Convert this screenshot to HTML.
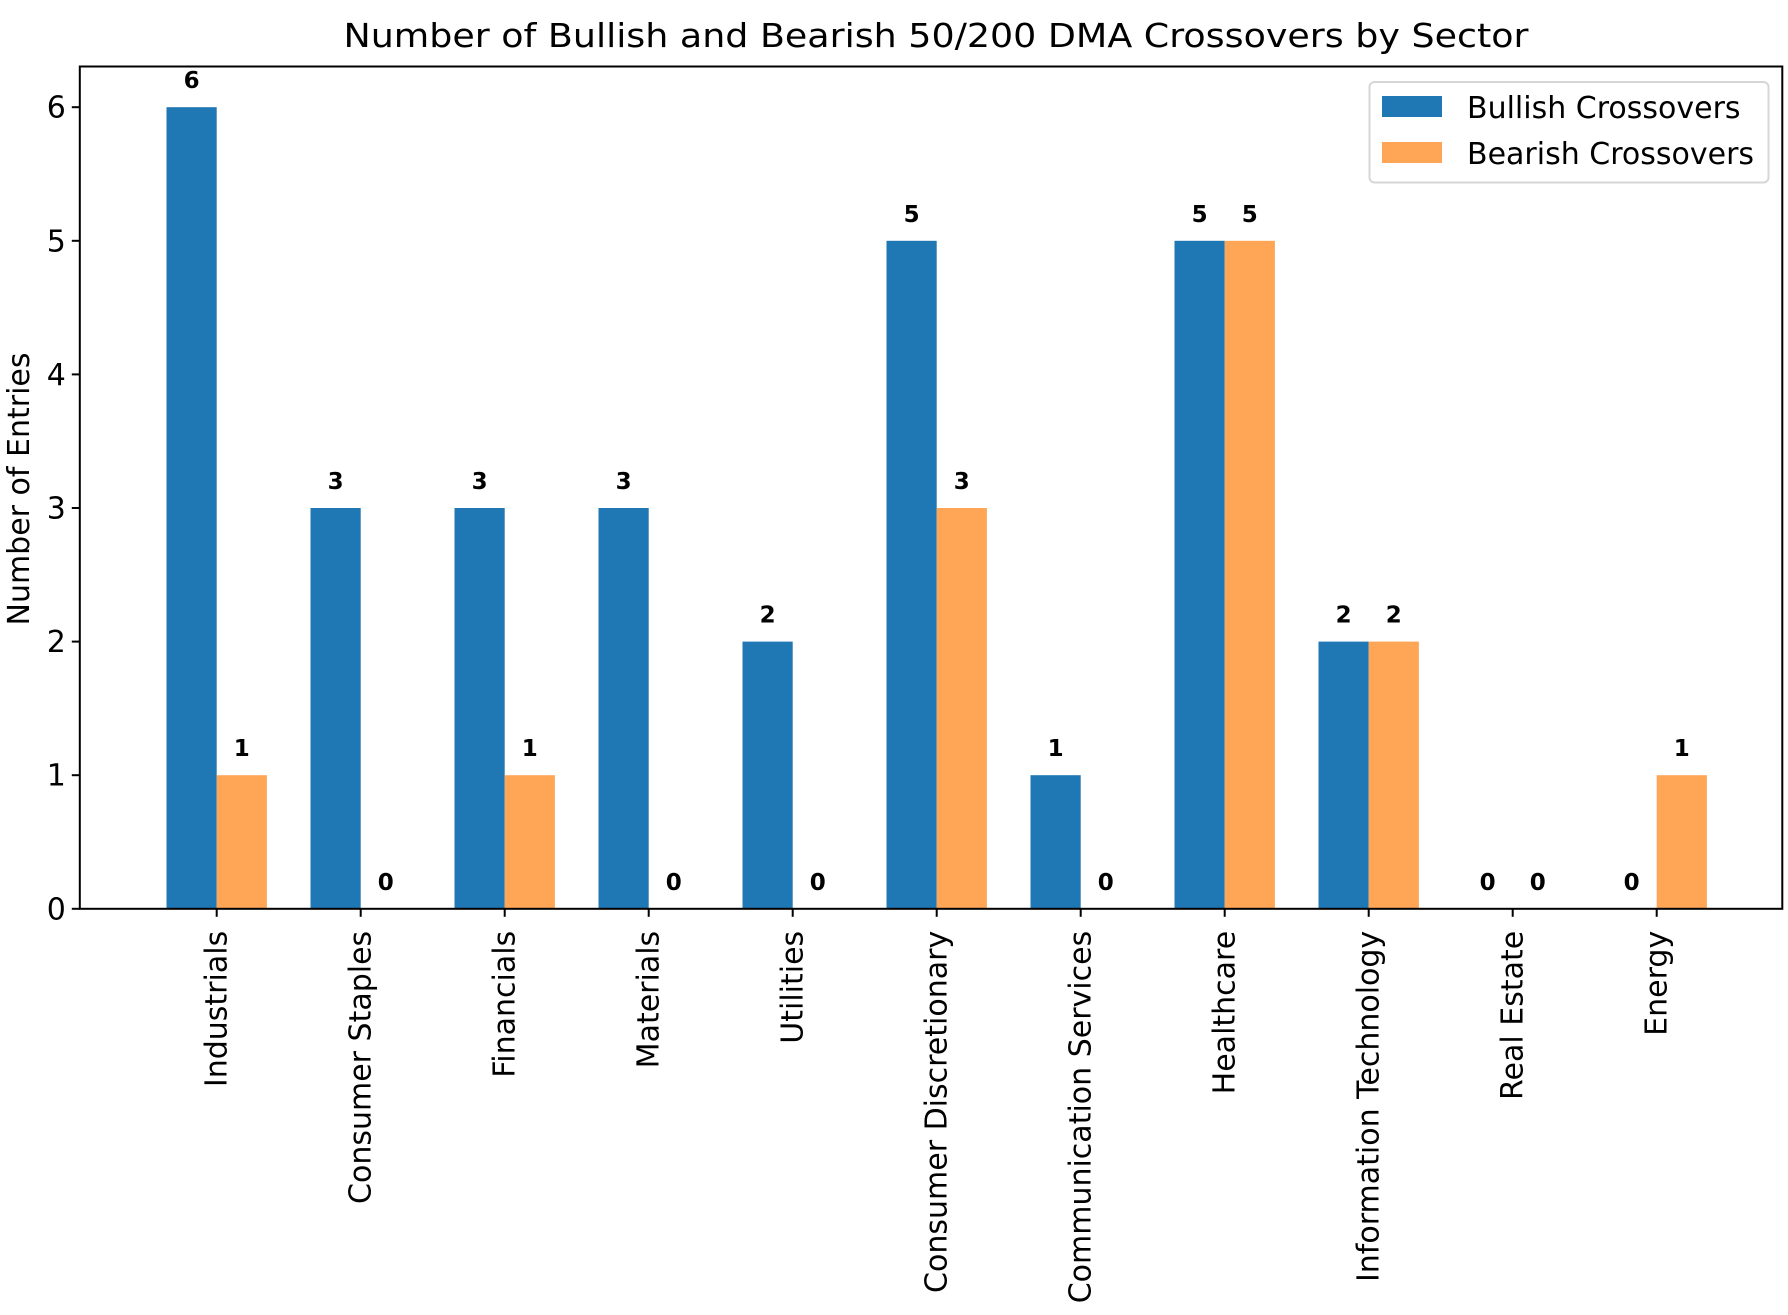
<!DOCTYPE html>
<html><head><meta charset="utf-8"><style>
html,body{margin:0;padding:0;background:#fff;}
svg{display:block;font-family:"DejaVu Sans","Liberation Sans",sans-serif;}
</style></head><body>
<svg id="chart" width="1788" height="1315" viewBox="0 0 1788 1315" xmlns="http://www.w3.org/2000/svg">
<rect width="1788" height="1315" fill="#fff"/>
<text x="936" y="47" font-size="33" text-anchor="middle" textLength="1185" lengthAdjust="spacingAndGlyphs">Number of Bullish and Bearish 50/200 DMA Crossovers by Sector</text>
<text transform="translate(29,489) rotate(-90)" font-size="30" text-anchor="middle">Number of Entries</text>
<g id="bars"></g>
<g id="axes"></g>
<g>
<rect x="1369.5" y="82" width="399" height="100.5" rx="5" fill="#fff" fill-opacity="0.8" stroke="#d6d6d6" stroke-width="2"/>
<rect x="1382" y="96" width="60" height="21" fill="#1f77b4"/>
<text x="1467" y="118" font-size="30">Bullish Crossovers</text>
<rect x="1382" y="142" width="60" height="21" fill="#ffa556"/>
<text x="1467" y="164" font-size="30">Bearish Crossovers</text>
</g>
</svg>
<script>
const categories = ["Industrials","Consumer Staples","Financials","Materials","Utilities","Consumer Discretionary","Communication Services","Healthcare","Information Technology","Real Estate","Energy"];
const bullish = [6,3,3,3,2,5,1,5,2,0,0];
const bearish = [1,0,1,0,0,3,0,5,2,0,1];
const yTicks = [0,1,2,3,4,5,6];

const L=79.8,R=1782.3,T=66.5,B=908.8,unit=133.6;
const x0=216.7,step=144.0,bw=50.2;
const NS="http://www.w3.org/2000/svg";
const y=v=>B-v*unit;
const xc=i=>x0+i*step;
function mk(tag,attrs,parent){const e=document.createElementNS(NS,tag);for(const k in attrs)e.setAttribute(k,attrs[k]);parent.appendChild(e);return e;}
const bars=document.getElementById('bars'),axes=document.getElementById('axes');
const series=[[bullish,'#1f77b4',-1,'bullish'],[bearish,'#ffa556',0,'bearish']];
categories.forEach((c,i)=>{
  series.forEach(([vals,col,off,nm])=>{
    const v=vals[i];const bx=xc(i)+off*bw;
    const r=mk('rect',{x:bx,y:y(v),width:bw,height:B-y(v),fill:col},bars);
    
    
    const t=mk('text',{x:bx+bw/2,y:y(v)-19,'font-size':23,'font-weight':'bold','text-anchor':'middle'},bars);
    t.textContent=v;
    
    
  });
  mk('line',{x1:xc(i),x2:xc(i),y1:B,y2:B+8,stroke:'#000','stroke-width':2},axes);
  const lt=mk('text',{transform:`translate(${xc(i)+10},${B+22}) rotate(-90)`,'font-size':30,'text-anchor':'end'},axes);
  lt.textContent=c;
  
  
});
yTicks.forEach(v=>{
  mk('line',{x1:L-8,x2:L,y1:y(v),y2:y(v),stroke:'#000','stroke-width':2},axes);
  const t=mk('text',{x:L-14,y:y(v)+10.5,'font-size':30,'text-anchor':'end'},axes);
  t.textContent=v;
  
  
});
const fr=mk('rect',{x:L,y:T,width:R-L,height:B-T,fill:'none',stroke:'#000','stroke-width':2},axes);


</script>
</body></html>
